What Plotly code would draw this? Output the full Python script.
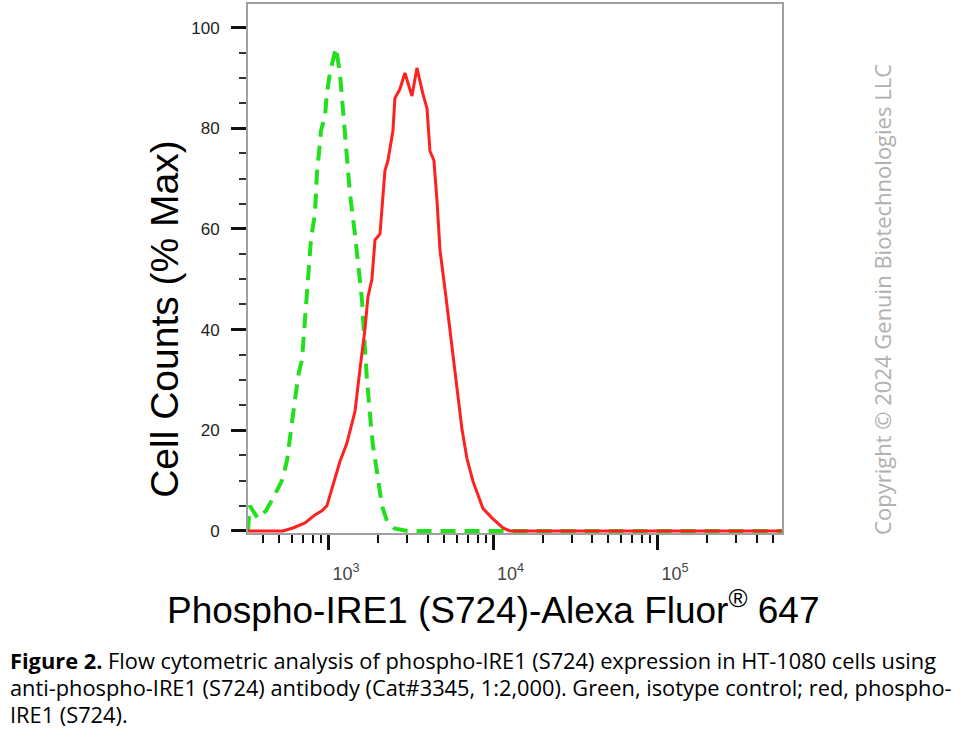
import plotly.graph_objects as go

# Isotype control (green, dashed)
green_x = [322, 330, 370, 414, 457, 518, 556, 596, 621, 657, 686, 715, 745, 778, 822, 845,
           869, 894, 946, 972, 1014, 1103, 1166, 1216, 1268, 1342, 1439, 1522, 1587, 1632,
           1703, 1800, 1851, 1958, 2100, 2253, 2500, 3000, 10000, 100000, 570000]
green_y = [0, 5, 2.5, 4, 6.5, 10, 14, 22, 26, 31.6, 34, 42, 50, 58, 63, 71,
           75, 79.5, 82.4, 87, 91, 96, 91, 83.4, 75, 67, 59, 50.5, 46, 39.4,
           30, 21, 17, 11.8, 5, 2, 0.5, 0, 0, 0, 0]

# phospho-IRE1 (S724) (red, solid)
red_x = [322, 525, 604, 715, 822, 906, 972, 1043, 1166, 1285, 1439, 1542, 1655, 1726, 1825,
         1905, 2043, 2190, 2284, 2449, 2518, 2701, 2897, 3196, 3427, 3727, 3945, 4112, 4348,
         4536, 4733, 5145, 5594, 5997, 6433, 6901, 7502, 8626, 9789, 11420, 12600, 570000]
red_y = [0, 0, 0.6, 1.6, 3.2, 4, 5, 8.5, 13.8, 17.4, 23.7, 32, 40, 46.5, 50,
         57.8, 59, 71.6, 73.6, 79.5, 86, 87.8, 91, 86.4, 92, 86.8, 84, 75.5, 73.6,
         65.7, 55.8, 46.5, 36.7, 28.2, 20.3, 14.4, 9.9, 4.5, 2.6, 0.6, 0, 0]

y_ticks = [0, 20, 40, 60, 80, 100]
x_ticks = [1000, 10000, 100000]
x_ticktext = ["10<sup>3</sup>", "10<sup>4</sup>", "10<sup>5</sup>"]
x_minor = [400, 500, 600, 700, 800, 900,
           2000, 3000, 4000, 5000, 6000, 7000, 8000, 9000,
           20000, 30000, 40000, 50000, 60000, 70000, 80000, 90000,
           200000, 300000, 400000, 500000]

x_title = "Phospho-IRE1 (S724)-Alexa Fluor<sup>®</sup> 647"
y_title = "Cell Counts (% Max)"
caption_lines = [
    "<b>Figure 2.</b> Flow cytometric analysis of phospho-IRE1 (S724) expression in HT-1080 cells using",
    "anti-phospho-IRE1 (S724) antibody (Cat#3345, 1:2,000). Green, isotype control; red, phospho-",
    "IRE1 (S724).",
]
copyright_text = "Copyright © 2024 Genuin Biotechnologies LLC"

fig = go.Figure()
fig.add_trace(go.Scatter(x=green_x, y=green_y, mode="lines",
                         line=dict(color="#22e01e", width=4, dash="15px,9px"),
                         showlegend=False))
fig.add_trace(go.Scatter(x=red_x, y=red_y, mode="lines",
                         line=dict(color="#ff2020", width=3),
                         showlegend=False))

fig.update_layout(
    width=980, height=734,
    margin=dict(l=248, r=198, t=2, b=201),
    paper_bgcolor="white", plot_bgcolor="white",
    font=dict(family="Liberation Sans, Arial, sans-serif"),
    xaxis=dict(type="log", range=[2.508, 5.754],
               showgrid=False, zeroline=False,
               showline=True, linecolor="#a0a0a0", linewidth=2, mirror=True,
               layer="below traces",
               ticks="outside", ticklen=15, tickwidth=3, tickcolor="#111",
               tickvals=x_ticks, ticktext=x_ticktext,
               tickfont=dict(size=18, color="#444"),
               ticklabelshift=17, ticklabelstandoff=8,
               minor=dict(tickvals=x_minor, ticks="outside", ticklen=8,
                          tickwidth=1.5, tickcolor="#111")),
    yaxis=dict(range=[-0.4, 104.7],
               showgrid=False, zeroline=False,
               showline=True, linecolor="#a0a0a0", linewidth=2, mirror=True,
               layer="below traces",
               ticks="outside", ticklen=15, tickwidth=3, tickcolor="#111",
               tickvals=y_ticks,
               tickfont=dict(size=17, color="#222"),
               ticklabelstandoff=8,
               minor=dict(dtick=5, tick0=0, ticks="outside", ticklen=7,
                          tickwidth=1.5, tickcolor="#333")),
)

fig.add_annotation(text=x_title, x=493, y=608, xref="paper", yref="paper",
                   xanchor="center", yanchor="middle",
                   showarrow=False, font=dict(size=37, color="#000"))
fig.add_annotation(text=y_title, x=165, y=318, xref="paper", yref="paper",
                   xanchor="center", yanchor="middle",
                   showarrow=False, textangle=-90, font=dict(size=39, color="#000"))
fig.add_annotation(text=copyright_text, x=882, y=299, xref="paper", yref="paper",
                   xanchor="center", yanchor="middle",
                   showarrow=False, textangle=-90,
                   font=dict(family="Open Sans, Noto Sans, sans-serif", size=22, color="#b0b0b0"))

cap_y = [661, 688, 715]
for line, yy in zip(caption_lines, cap_y):
    fig.add_annotation(text=line, x=8, y=yy, xref="paper", yref="paper",
                       xanchor="left", yanchor="middle", showarrow=False,
                       font=dict(family="Open Sans, sans-serif",
                                 size=21.8, color="#000"))

# convert pixel annotation positions to paper coords
pw = 980 - 248 - 198
ph = 734 - 2 - 201
for ann in fig.layout.annotations:
    ann.x = (ann.x - 248) / pw
    ann.y = (734 - 201 - ann.y) / ph

fig.write_html("out.html")
